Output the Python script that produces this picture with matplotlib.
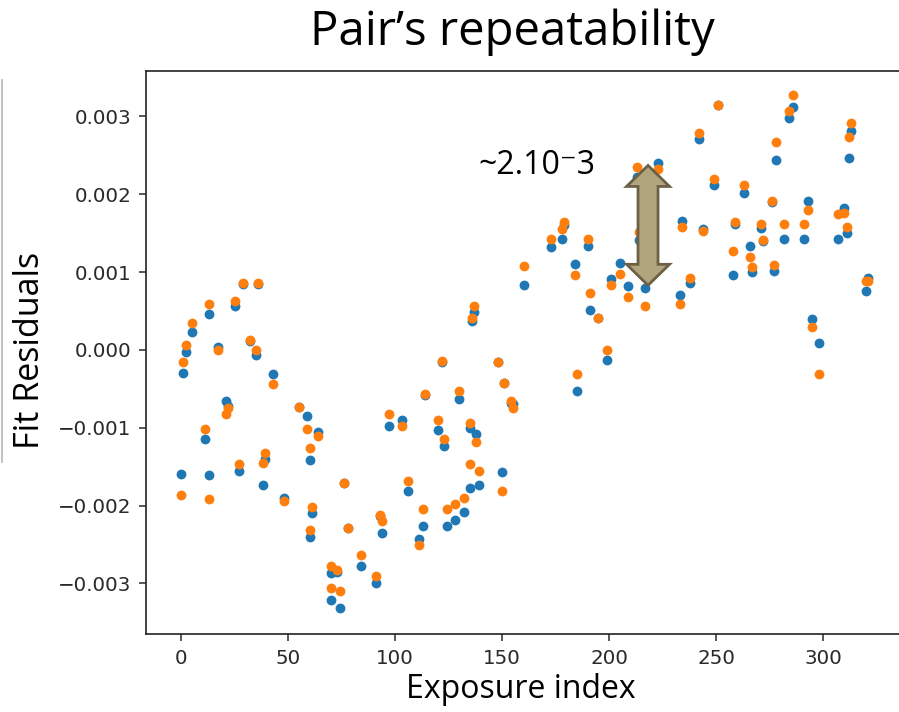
import matplotlib
matplotlib.use("Agg")
import matplotlib.pyplot as plt
from matplotlib.patches import Polygon
from matplotlib.lines import Line2D

# Exposure index and fit residuals of the two members of the pair
exposure_idx = [0, 1, 2, 5, 11, 13, 13, 17, 21, 22, 25, 27, 29, 32, 35, 36, 38, 39,
                43, 48, 55, 59, 60, 60, 61, 64, 70, 73, 70, 74, 76, 78, 84, 91, 93, 94,
                97, 103, 106, 111, 113, 114, 120, 122, 123, 124, 128, 130, 132, 135, 135,
                136, 137, 138, 139, 148, 150, 151, 154, 155, 160, 173, 178, 179, 184, 185,
                190, 191, 195, 199, 201, 205, 209, 213, 214, 217, 223, 233, 234, 238, 242,
                244, 249, 251, 258, 259, 263, 266, 267, 271, 272, 276, 277, 278, 282, 284,
                286, 291, 293, 295, 298, 307, 310, 311, 312, 313, 320, 321]

resid_first = [-0.00159, -0.00030, -0.00003, 0.00023, -0.00114, 0.00046, -0.00161, 0.00004,
               -0.00066, -0.00072, 0.00056, -0.00155, 0.00085, 0.00012, -0.00006, 0.00085,
               -0.00174, -0.00140, -0.00031, -0.00190, -0.00073, -0.00085, -0.00141, -0.00240,
               -0.00209, -0.00105, -0.00286, -0.00285, -0.00321, -0.00331, -0.00171, -0.00229,
               -0.00277, -0.00300, -0.00214, -0.00235, -0.00098, -0.00090, -0.00181, -0.00243,
               -0.00226, -0.00058, -0.00103, -0.00015, -0.00123, -0.00226, -0.00218, -0.00063,
               -0.00208, -0.00177, -0.00100, 0.00037, 0.00049, -0.00108, -0.00174, -0.00016,
               -0.00157, -0.00042, -0.00068, -0.00070, 0.00084, 0.00132, 0.00142, 0.00160,
               0.00110, -0.00053, 0.00134, 0.00051, 0.00041, -0.00013, 0.00091, 0.00112,
               0.00082, 0.00222, 0.00141, 0.00080, 0.00240, 0.00071, 0.00165, 0.00086,
               0.00271, 0.00155, 0.00212, 0.00315, 0.00096, 0.00162, 0.00202, 0.00134,
               0.00100, 0.00156, 0.00140, 0.00190, 0.00101, 0.00244, 0.00143, 0.00298,
               0.00312, 0.00143, 0.00191, 0.00040, 0.00009, 0.00143, 0.00182, 0.00150,
               0.00247, 0.00281, 0.00076, 0.00092]

resid_second = [-0.00186, -0.00016, 0.00006, 0.00035, -0.00102, 0.00059, -0.00191, 0.00000,
                -0.00082, -0.00075, 0.00063, -0.00147, 0.00086, 0.00013, 0.00000, 0.00086,
                -0.00145, -0.00133, -0.00044, -0.00194, -0.00073, -0.00102, -0.00126, -0.00232,
                -0.00202, -0.00110, -0.00277, -0.00283, -0.00306, -0.00310, -0.00171, -0.00229,
                -0.00263, -0.00291, -0.00212, -0.00220, -0.00082, -0.00098, -0.00169, -0.00251,
                -0.00204, -0.00056, -0.00090, -0.00014, -0.00115, -0.00204, -0.00198, -0.00053,
                -0.00190, -0.00147, -0.00094, 0.00041, 0.00057, -0.00118, -0.00155, -0.00016,
                -0.00181, -0.00042, -0.00066, -0.00075, 0.00108, 0.00143, 0.00155, 0.00164,
                0.00096, -0.00031, 0.00143, 0.00073, 0.00041, 0.00000, 0.00084, 0.00098,
                0.00068, 0.00235, 0.00152, 0.00056, 0.00233, 0.00059, 0.00158, 0.00093,
                0.00279, 0.00153, 0.00220, 0.00315, 0.00127, 0.00164, 0.00212, 0.00120,
                0.00106, 0.00162, 0.00141, 0.00191, 0.00109, 0.00267, 0.00162, 0.00307,
                0.00328, 0.00162, 0.00180, 0.00029, -0.00031, 0.00174, 0.00176, 0.00158,
                0.00274, 0.00291, 0.00088, 0.00089]

x_ticks = [0, 50, 100, 150, 200, 250, 300]
y_ticks = [-0.003, -0.002, -0.001, 0.000, 0.001, 0.002, 0.003]

# Spread marked by the double arrow
spread_idx = 218.2
spread_lo, spread_hi = 0.00083, 0.00237

W, H = 899, 712
fig = plt.figure(figsize=(W / 100, H / 100), dpi=100)
ax = fig.add_axes([146 / W, 1 - 634 / H, (900 - 146) / W, (634 - 70.5) / H])

ax.scatter(exposure_idx, resid_first, s=50, color="#1f77b4", linewidths=0, zorder=2)
ax.scatter(exposure_idx, resid_second, s=50, color="#ff7f0e", linewidths=0, zorder=3)

ax.set_xlim(-16.5, 336)
ax.set_ylim(-0.00365, 0.00359)
ax.set_xticks(x_ticks)
ax.set_yticks(y_ticks)
ax.set_yticklabels([f"{v:.3f}".replace("-", "\u2212") for v in y_ticks])
ax.tick_params(labelsize=14.3, length=5, width=1.1, pad=5.5, colors="#2a2a2a")
for sp in ax.spines.values():
    sp.set_linewidth(1.2)
    sp.set_color("#222222")

# Double-headed block arrow showing the spread between the pair
px_per_x = ax.bbox.width / (336 + 16.5)
px_per_y = ax.bbox.height / (0.00359 + 0.00365)
shaft_half = 10 / px_per_x
head_half = 21.5 / px_per_x
head_len = 21 / px_per_y
xc = spread_idx
verts = [
    (xc, spread_hi),
    (xc + head_half, spread_hi - head_len),
    (xc + shaft_half, spread_hi - head_len),
    (xc + shaft_half, spread_lo + head_len),
    (xc + head_half, spread_lo + head_len),
    (xc, spread_lo),
    (xc - head_half, spread_lo + head_len),
    (xc - shaft_half, spread_lo + head_len),
    (xc - shaft_half, spread_hi - head_len),
    (xc - head_half, spread_hi - head_len),
]
ax.add_patch(Polygon(verts, closed=True, facecolor="#b1a57e", edgecolor="#6d6145",
                     linewidth=2, joinstyle="miter", zorder=5))

fig.text(478 / W, 1 - 166 / H, "~2.10\u207b3", fontsize=23,
         family=["Open Sans", "DejaVu Sans"], ha="left", va="center")

fig.text(512 / W, 1 - 32 / H, "Pair\u2019s repeatability", fontsize=34,
         family=["Open Sans", "DejaVu Sans"], ha="center", va="center")
fig.text(30 / W, 1 - 350 / H, "Fit Residuals", fontsize=24.5, rotation=90,
         family=["Open Sans", "DejaVu Sans"], ha="center", va="center")
fig.text(521 / W, 1 - 690 / H, "Exposure index", fontsize=23,
         family=["Open Sans", "DejaVu Sans"], ha="center", va="center")

# Thin rule at the left margin
fig.add_artist(Line2D([2 / W, 2 / W], [1 - 462 / H, 1 - 80 / H], transform=fig.transFigure,
                      color="#b5b5b5", linewidth=1.2))

fig.savefig("out.png", dpi=100)
